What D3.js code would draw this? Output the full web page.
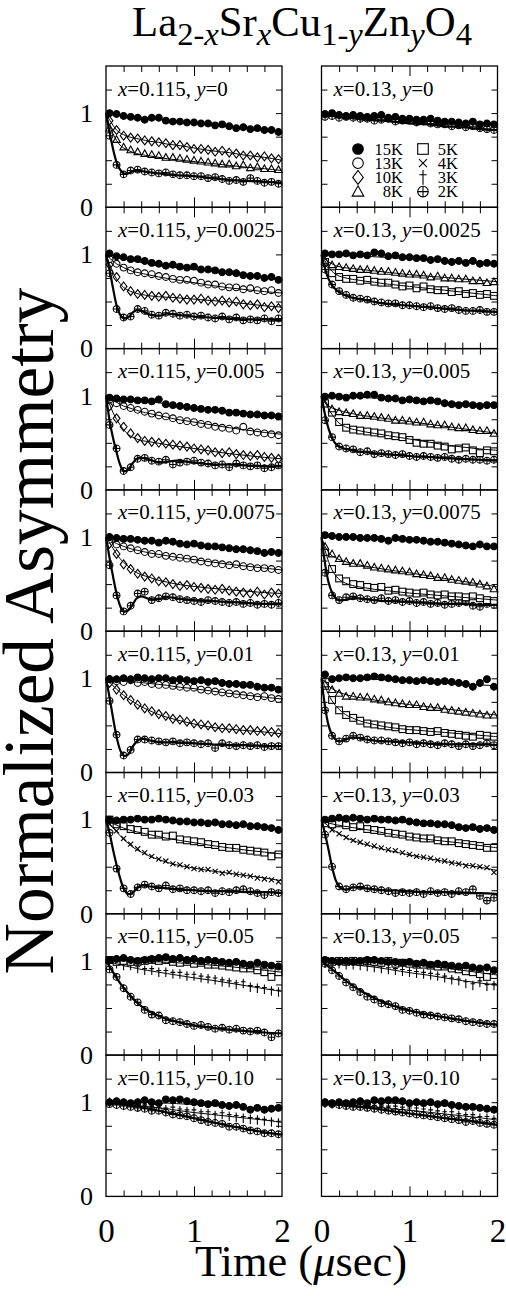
<!DOCTYPE html>
<html>
<head>
<meta charset="utf-8">
<script src="https://cdn.jsdelivr.net/npm/d3@7"></script>
<style>
  body { margin: 0; background: #fff; }
  svg { display: block; }
</style>
</head>
<body>
<div id="chart"></div>
<script>
// time grids (usec): measured points and fitted curves
const time = [0.04,0.12,0.20,0.28,0.36,0.44,0.52,0.60,0.68,0.76,0.84,0.92,1.00,1.08,1.16,1.24,1.32,1.40,1.48,1.56,1.64,1.72,1.80,1.88,1.96];
const fitTime = [0,0.04,0.08,0.12,0.16,0.2,0.25,0.3,0.35,0.4,0.5,0.6,0.7,0.8,1.0,1.2,1.4,1.6,1.8,2.0];

const xValues = ["0.115", "0.13"];
const yValues = ["0", "0.0025", "0.005", "0.0075", "0.01", "0.03", "0.05", "0.10"];
const temps = ["15K", "13K", "10K", "8K", "5K", "4K", "3K", "2K"];
const markerTypes = ["filled", "circle", "diamond", "triangle", "square", "times", "dagger", "oplus"];
const yTickLabels = [0, 1];
const xTickLabels = [0, 1, 2];

// x=0.115, y=0
const L1_15K = [1.00,0.99,0.97,0.96,0.95,0.93,0.95,0.95,0.92,0.91,0.91,0.90,0.90,0.89,0.89,0.87,0.88,0.86,0.84,0.85,0.83,0.84,0.82,0.82,0.80];
const L1_15K_fit = [1.0,0.995,0.99,0.985,0.98,0.975,0.97,0.965,0.96,0.955,0.945,0.935,0.925,0.915,0.895,0.875,0.855,0.835,0.815,0.80];
const L1_10K = [0.92,0.82,0.76,0.74,0.73,0.71,0.70,0.69,0.68,0.66,0.66,0.64,0.62,0.62,0.61,0.59,0.60,0.58,0.57,0.55,0.55,0.53,0.54,0.52,0.51];
const L1_10K_fit = [1.0,0.93,0.87,0.82,0.79,0.77,0.75,0.74,0.73,0.72,0.70,0.69,0.67,0.66,0.63,0.60,0.58,0.55,0.53,0.50];
const L1_8K = [0.84,0.72,0.64,0.61,0.59,0.57,0.56,0.55,0.53,0.53,0.52,0.51,0.50,0.49,0.48,0.47,0.46,0.46,0.44,0.45,0.42,0.43,0.41,0.41,0.40];
const L1_8K_fit = [1.0,0.87,0.78,0.71,0.66,0.63,0.605,0.585,0.57,0.56,0.545,0.53,0.515,0.505,0.485,0.465,0.445,0.425,0.41,0.39];
const L1_2K = [0.76,0.45,0.35,0.39,0.40,0.38,0.37,0.36,0.37,0.35,0.34,0.34,0.33,0.33,0.31,0.32,0.30,0.28,0.29,0.27,0.31,0.28,0.26,0.27,0.25];
const L1_2K_fit = [1.0,0.80,0.62,0.48,0.40,0.36,0.36,0.38,0.39,0.385,0.37,0.36,0.35,0.34,0.33,0.31,0.29,0.28,0.27,0.26];

// x=0.13, y=0
const R1_15K = [0.99,1.00,0.98,0.97,0.98,0.97,0.96,0.97,0.98,0.95,0.96,0.94,0.94,0.93,0.93,0.94,0.92,0.91,0.91,0.90,0.89,0.91,0.88,0.89,0.88];
const R1_15K_fit = [1.0,0.995,0.99,0.99,0.985,0.98,0.98,0.975,0.97,0.97,0.96,0.955,0.95,0.94,0.93,0.92,0.91,0.90,0.89,0.88];
const R1_2K = [0.96,0.97,0.95,0.96,0.95,0.94,0.94,0.92,0.93,0.94,0.91,0.92,0.92,0.90,0.91,0.89,0.88,0.88,0.86,0.87,0.85,0.86,0.84,0.83,0.82];
const R1_2K_fit = [0.98,0.975,0.97,0.97,0.965,0.96,0.955,0.95,0.945,0.94,0.93,0.925,0.92,0.91,0.89,0.88,0.86,0.85,0.83,0.82];

// x=0.115, y=0.0025
const L2_15K = [1.01,0.98,0.97,0.95,0.95,0.93,0.91,0.90,0.88,0.89,0.87,0.86,0.87,0.84,0.84,0.83,0.81,0.81,0.80,0.78,0.77,0.77,0.75,0.76,0.73];
const L2_15K_fit = [1.0,0.995,0.985,0.975,0.965,0.955,0.945,0.935,0.925,0.915,0.895,0.88,0.87,0.86,0.84,0.82,0.80,0.775,0.75,0.725];
const L2_13K = [0.95,0.90,0.86,0.83,0.81,0.80,0.79,0.77,0.76,0.74,0.73,0.73,0.72,0.70,0.68,0.68,0.66,0.65,0.65,0.63,0.64,0.62,0.61,0.62,0.59];
const L2_13K_fit = [1.0,0.96,0.93,0.90,0.88,0.86,0.84,0.82,0.81,0.80,0.78,0.76,0.745,0.73,0.70,0.67,0.645,0.625,0.605,0.59];
const L2_10K = [0.89,0.76,0.66,0.61,0.58,0.57,0.56,0.55,0.56,0.54,0.53,0.52,0.52,0.53,0.51,0.50,0.51,0.49,0.50,0.47,0.46,0.47,0.44,0.45,0.43];
const L2_10K_fit = [1.0,0.90,0.81,0.74,0.69,0.65,0.62,0.60,0.585,0.575,0.56,0.55,0.545,0.54,0.525,0.51,0.495,0.475,0.455,0.44];
const L2_2K = [0.80,0.42,0.33,0.34,0.42,0.40,0.36,0.35,0.38,0.37,0.35,0.36,0.34,0.35,0.33,0.32,0.34,0.31,0.33,0.30,0.31,0.30,0.32,0.29,0.32];
const L2_2K_fit = [1.0,0.84,0.64,0.46,0.36,0.32,0.33,0.38,0.41,0.40,0.36,0.35,0.37,0.36,0.34,0.33,0.32,0.31,0.31,0.30];

// x=0.13, y=0.0025
const R2_15K = [1.01,1.00,1.00,1.01,0.99,1.00,0.99,1.02,1.01,0.98,0.99,0.97,0.97,0.96,0.96,0.94,0.95,0.93,0.92,0.93,0.91,0.93,0.90,0.91,0.90];
const R2_15K_fit = [1.0,1.0,1.0,1.0,0.995,0.995,0.99,0.99,0.985,0.985,0.98,0.975,0.97,0.965,0.955,0.945,0.935,0.925,0.915,0.905];
const R2_8K = [0.93,0.89,0.87,0.86,0.85,0.84,0.84,0.83,0.82,0.82,0.81,0.80,0.79,0.79,0.78,0.76,0.77,0.75,0.75,0.74,0.74,0.72,0.72,0.70,0.71];
const R2_8K_fit = [1.0,0.95,0.92,0.90,0.88,0.87,0.86,0.855,0.85,0.845,0.835,0.825,0.815,0.805,0.785,0.77,0.755,0.74,0.725,0.71];
const R2_5K = [0.92,0.80,0.76,0.74,0.74,0.72,0.73,0.71,0.70,0.70,0.68,0.66,0.67,0.64,0.66,0.63,0.62,0.62,0.60,0.61,0.58,0.59,0.57,0.58,0.56];
const R2_5K_fit = [1.0,0.93,0.87,0.82,0.79,0.77,0.755,0.745,0.735,0.73,0.715,0.705,0.69,0.68,0.66,0.64,0.62,0.60,0.58,0.56];
const R2_2K = [0.84,0.68,0.61,0.57,0.54,0.53,0.52,0.50,0.49,0.48,0.48,0.46,0.46,0.45,0.44,0.45,0.43,0.42,0.43,0.41,0.40,0.40,0.41,0.39,0.39];
const R2_2K_fit = [1.0,0.85,0.74,0.67,0.63,0.60,0.575,0.555,0.54,0.53,0.515,0.495,0.48,0.47,0.455,0.44,0.425,0.41,0.40,0.39];

// x=0.115, y=0.005
const L3_15K = [0.98,0.97,0.96,0.96,0.95,0.95,0.94,0.96,0.91,0.90,0.89,0.88,0.87,0.86,0.85,0.85,0.84,0.82,0.82,0.81,0.80,0.80,0.79,0.79,0.78];
const L3_15K_fit = [1.0,0.99,0.985,0.98,0.975,0.97,0.965,0.96,0.955,0.95,0.94,0.925,0.91,0.895,0.87,0.85,0.83,0.815,0.80,0.785];
const L3_13K = [0.96,0.92,0.89,0.87,0.85,0.83,0.81,0.79,0.78,0.76,0.74,0.73,0.72,0.70,0.69,0.67,0.66,0.65,0.63,0.67,0.62,0.61,0.60,0.59,0.58];
const L3_13K_fit = [1.0,0.97,0.95,0.93,0.91,0.89,0.875,0.86,0.845,0.83,0.81,0.79,0.77,0.75,0.72,0.69,0.66,0.635,0.61,0.59];
const L3_10K = [0.89,0.76,0.67,0.60,0.55,0.52,0.51,0.50,0.49,0.48,0.47,0.46,0.44,0.43,0.42,0.40,0.39,0.40,0.38,0.37,0.36,0.37,0.35,0.34,0.33];
const L3_10K_fit = [1.0,0.91,0.82,0.75,0.69,0.64,0.59,0.56,0.54,0.525,0.51,0.495,0.48,0.465,0.44,0.41,0.385,0.365,0.345,0.33];
const L3_2K = [0.69,0.44,0.20,0.24,0.33,0.34,0.31,0.30,0.32,0.27,0.29,0.30,0.31,0.29,0.28,0.26,0.27,0.24,0.28,0.26,0.25,0.26,0.23,0.24,0.26];
const L3_2K_fit = [1.0,0.74,0.55,0.40,0.27,0.20,0.21,0.28,0.33,0.34,0.32,0.29,0.30,0.31,0.29,0.27,0.27,0.26,0.25,0.25];

// x=0.13, y=0.005
const R3_15K = [0.99,1.00,0.99,0.98,1.00,1.00,1.01,1.01,0.98,0.97,0.97,0.95,0.96,0.95,0.94,0.95,0.94,0.92,0.91,0.90,0.91,0.90,0.89,0.90,0.90];
const R3_15K_fit = [1.0,1.0,1.0,1.0,1.0,0.995,0.995,0.99,0.99,0.985,0.98,0.975,0.97,0.965,0.95,0.94,0.93,0.92,0.91,0.90];
const R3_8K = [0.91,0.86,0.83,0.82,0.81,0.79,0.79,0.78,0.77,0.76,0.74,0.74,0.73,0.72,0.72,0.70,0.69,0.69,0.67,0.66,0.66,0.64,0.63,0.63,0.60];
const R3_8K_fit = [1.0,0.93,0.89,0.87,0.855,0.845,0.83,0.82,0.81,0.80,0.785,0.775,0.76,0.75,0.725,0.70,0.675,0.65,0.625,0.60];
const R3_5K = [0.92,0.82,0.72,0.66,0.64,0.63,0.62,0.61,0.60,0.58,0.57,0.56,0.53,0.50,0.49,0.49,0.47,0.46,0.43,0.44,0.45,0.42,0.39,0.42,0.41];
const R3_5K_fit = [1.0,0.93,0.86,0.80,0.75,0.71,0.68,0.66,0.645,0.635,0.615,0.60,0.585,0.57,0.54,0.51,0.48,0.455,0.435,0.42];
const R3_2K = [0.74,0.56,0.46,0.44,0.43,0.40,0.41,0.38,0.39,0.38,0.37,0.38,0.36,0.35,0.36,0.35,0.34,0.35,0.33,0.32,0.33,0.32,0.32,0.31,0.32];
const R3_2K_fit = [1.0,0.80,0.65,0.55,0.49,0.46,0.44,0.43,0.42,0.41,0.40,0.39,0.38,0.375,0.36,0.35,0.34,0.33,0.32,0.31];

// x=0.115, y=0.0075
const L4_15K = [1.00,0.99,0.98,0.98,0.97,0.96,0.96,0.94,0.96,0.95,0.93,0.92,0.93,0.91,0.90,0.90,0.89,0.88,0.87,0.87,0.86,0.85,0.83,0.84,0.83];
const L4_15K_fit = [1.0,1.0,0.995,0.99,0.985,0.985,0.98,0.975,0.97,0.965,0.96,0.95,0.94,0.93,0.91,0.89,0.87,0.855,0.84,0.825];
const L4_13K = [0.97,0.92,0.90,0.88,0.86,0.84,0.82,0.82,0.80,0.79,0.78,0.77,0.76,0.74,0.73,0.72,0.71,0.70,0.71,0.69,0.68,0.67,0.67,0.66,0.65];
const L4_13K_fit = [1.0,0.97,0.95,0.93,0.915,0.90,0.885,0.87,0.86,0.85,0.83,0.815,0.80,0.785,0.76,0.735,0.71,0.69,0.67,0.65];
const L4_10K = [0.93,0.82,0.71,0.66,0.61,0.58,0.56,0.53,0.52,0.50,0.48,0.49,0.47,0.46,0.45,0.44,0.45,0.43,0.42,0.41,0.40,0.42,0.39,0.41,0.40];
const L4_10K_fit = [1.0,0.94,0.88,0.82,0.77,0.73,0.69,0.65,0.62,0.60,0.57,0.54,0.52,0.50,0.475,0.455,0.44,0.425,0.41,0.40];
const L4_2K = [0.70,0.38,0.21,0.27,0.40,0.42,0.33,0.35,0.37,0.36,0.34,0.33,0.32,0.31,0.33,0.32,0.31,0.30,0.31,0.29,0.30,0.28,0.29,0.28,0.30];
const L4_2K_fit = [1.0,0.78,0.58,0.40,0.27,0.21,0.22,0.28,0.35,0.37,0.34,0.34,0.36,0.35,0.33,0.32,0.31,0.30,0.29,0.29];

// x=0.13, y=0.0075
const R4_15K = [1.02,1.01,1.00,1.00,1.00,0.99,0.99,0.99,0.98,0.96,0.99,0.98,0.97,0.97,0.96,0.95,0.95,0.94,0.93,0.92,0.91,0.90,0.92,0.90,0.90];
const R4_15K_fit = [1.0,1.0,1.0,1.0,1.0,1.0,0.995,0.995,0.99,0.99,0.985,0.98,0.975,0.97,0.96,0.95,0.935,0.92,0.91,0.90];
const R4_8K = [0.90,0.82,0.77,0.74,0.72,0.72,0.70,0.68,0.67,0.66,0.65,0.64,0.63,0.61,0.60,0.59,0.57,0.57,0.55,0.54,0.53,0.52,0.50,0.48,0.45];
const R4_8K_fit = [1.0,0.90,0.84,0.80,0.78,0.76,0.745,0.73,0.72,0.71,0.69,0.675,0.66,0.645,0.62,0.59,0.56,0.53,0.50,0.47];
const R4_5K = [0.84,0.66,0.56,0.53,0.50,0.49,0.47,0.46,0.47,0.43,0.44,0.42,0.41,0.40,0.41,0.39,0.38,0.39,0.37,0.37,0.36,0.37,0.35,0.33,0.32];
const R4_5K_fit = [1.0,0.86,0.74,0.65,0.59,0.55,0.52,0.50,0.485,0.475,0.46,0.445,0.435,0.425,0.405,0.39,0.375,0.36,0.345,0.33];
const R4_2K = [0.62,0.38,0.33,0.36,0.37,0.35,0.34,0.33,0.35,0.32,0.33,0.31,0.32,0.30,0.31,0.29,0.30,0.28,0.29,0.30,0.31,0.27,0.26,0.29,0.28];
const R4_2K_fit = [1.0,0.72,0.52,0.41,0.35,0.33,0.33,0.34,0.35,0.35,0.34,0.33,0.32,0.32,0.31,0.30,0.29,0.29,0.28,0.28];

// x=0.115, y=0.01
const L5_15K = [0.99,0.99,1.00,0.99,1.01,1.00,0.99,1.00,1.00,0.98,0.99,0.98,0.97,0.98,0.96,0.97,0.95,0.94,0.94,0.93,0.93,0.91,0.90,0.90,0.88];
const L5_15K_fit = [1.0,1.0,1.0,1.0,1.0,1.0,0.995,0.995,0.995,0.99,0.99,0.985,0.98,0.975,0.965,0.955,0.94,0.925,0.905,0.885];
const L5_13K = [0.99,0.97,0.96,0.98,0.95,0.96,0.94,0.93,0.93,0.92,0.91,0.90,0.90,0.88,0.87,0.86,0.85,0.84,0.83,0.82,0.81,0.80,0.81,0.79,0.78];
const L5_13K_fit = [1.0,0.995,0.99,0.985,0.98,0.975,0.97,0.965,0.96,0.955,0.945,0.935,0.925,0.91,0.89,0.865,0.84,0.82,0.80,0.78];
const L5_10K = [0.95,0.88,0.82,0.77,0.72,0.68,0.65,0.62,0.60,0.57,0.56,0.54,0.52,0.51,0.50,0.48,0.47,0.47,0.46,0.45,0.45,0.44,0.44,0.43,0.42];
const L5_10K_fit = [1.0,0.96,0.92,0.885,0.85,0.82,0.785,0.755,0.725,0.70,0.655,0.615,0.585,0.56,0.515,0.48,0.46,0.445,0.43,0.41];
const L5_2K = [0.76,0.40,0.18,0.24,0.35,0.35,0.34,0.33,0.32,0.33,0.31,0.32,0.31,0.30,0.31,0.26,0.31,0.29,0.28,0.29,0.28,0.29,0.27,0.28,0.28];
const L5_2K_fit = [1.0,0.80,0.58,0.38,0.24,0.18,0.19,0.27,0.33,0.36,0.34,0.32,0.32,0.32,0.31,0.30,0.29,0.29,0.28,0.28];

// x=0.13, y=0.01
const R5_15K = [1.04,0.99,1.00,1.01,1.00,1.00,1.01,1.02,1.01,1.00,0.99,0.98,0.98,0.97,0.98,0.97,0.96,0.97,0.96,0.95,0.94,0.91,0.95,0.99,0.91];
const R5_15K_fit = [1.0,1.0,1.0,1.0,1.0,1.0,1.0,0.995,0.995,0.995,0.99,0.99,0.985,0.98,0.97,0.96,0.95,0.94,0.93,0.92];
const R5_8K = [0.94,0.88,0.84,0.81,0.81,0.80,0.80,0.78,0.77,0.75,0.74,0.73,0.72,0.72,0.70,0.69,0.69,0.67,0.66,0.65,0.64,0.63,0.62,0.61,0.61];
const R5_8K_fit = [1.0,0.96,0.92,0.89,0.87,0.85,0.835,0.82,0.81,0.80,0.785,0.77,0.755,0.745,0.72,0.70,0.675,0.655,0.63,0.61];
const R5_5K = [0.92,0.77,0.66,0.61,0.58,0.55,0.52,0.51,0.50,0.49,0.48,0.46,0.45,0.45,0.44,0.43,0.44,0.42,0.41,0.40,0.39,0.38,0.40,0.39,0.38];
const R5_5K_fit = [1.0,0.91,0.83,0.76,0.71,0.67,0.63,0.60,0.58,0.56,0.53,0.51,0.49,0.475,0.455,0.44,0.425,0.41,0.395,0.38];
const R5_2K = [0.66,0.39,0.33,0.36,0.39,0.37,0.35,0.34,0.34,0.33,0.32,0.31,0.32,0.30,0.31,0.30,0.29,0.31,0.30,0.28,0.30,0.28,0.29,0.31,0.29];
const R5_2K_fit = [1.0,0.70,0.50,0.40,0.35,0.33,0.34,0.36,0.37,0.37,0.35,0.34,0.33,0.33,0.32,0.31,0.30,0.30,0.30,0.29];

// x=0.115, y=0.03
const L6_15K = [1.00,0.99,1.00,1.00,1.01,1.00,1.00,1.01,1.00,0.99,0.98,0.98,0.97,0.97,0.96,0.97,0.95,0.95,0.94,0.95,0.93,0.93,0.92,0.91,0.89];
const L6_15K_fit = [1.0,1.0,1.0,1.0,1.0,1.0,1.0,1.0,1.0,1.0,0.995,0.99,0.99,0.985,0.975,0.965,0.95,0.935,0.915,0.895];
const L6_5K = [1.00,0.95,0.93,0.90,0.89,0.87,0.84,0.84,0.82,0.83,0.79,0.78,0.77,0.76,0.74,0.73,0.71,0.70,0.70,0.68,0.67,0.66,0.65,0.61,0.63];
const L6_5K_fit = [1.0,0.98,0.96,0.94,0.925,0.91,0.895,0.88,0.87,0.86,0.84,0.82,0.80,0.785,0.755,0.725,0.70,0.675,0.655,0.635];
const L6_4K = [0.95,0.88,0.80,0.74,0.69,0.65,0.61,0.58,0.56,0.53,0.52,0.50,0.48,0.47,0.47,0.45,0.43,0.44,0.42,0.41,0.40,0.38,0.37,0.36,0.34];
const L6_4K_fit = [1.0,0.96,0.91,0.87,0.83,0.79,0.75,0.71,0.68,0.655,0.61,0.575,0.545,0.52,0.485,0.455,0.43,0.405,0.38,0.35];
const L6_2K = [0.86,0.48,0.27,0.21,0.28,0.31,0.29,0.27,0.30,0.26,0.27,0.25,0.25,0.24,0.25,0.22,0.24,0.23,0.25,0.26,0.24,0.22,0.20,0.23,0.22];
const L6_2K_fit = [1.0,0.86,0.68,0.52,0.38,0.27,0.21,0.22,0.27,0.30,0.29,0.28,0.27,0.26,0.25,0.24,0.24,0.23,0.23,0.22];

// x=0.13, y=0.03
const R6_15K = [1.00,1.01,1.02,1.01,1.02,1.01,1.00,1.01,1.00,1.00,0.99,1.00,0.98,0.97,0.96,0.96,0.95,0.95,0.94,0.92,0.91,0.92,0.90,0.91,0.89];
const R6_15K_fit = [1.0,1.0,1.0,1.0,1.0,1.0,1.0,1.0,1.0,1.0,0.995,0.99,0.985,0.98,0.97,0.96,0.945,0.93,0.91,0.89];
const R6_5K = [0.96,0.95,0.96,0.94,0.92,0.93,0.90,0.89,0.88,0.86,0.85,0.84,0.82,0.81,0.80,0.80,0.78,0.77,0.77,0.75,0.74,0.73,0.72,0.70,0.70];
const R6_5K_fit = [1.0,0.98,0.965,0.955,0.945,0.94,0.93,0.925,0.915,0.91,0.895,0.88,0.86,0.845,0.815,0.79,0.77,0.75,0.725,0.70];
const R6_4K = [0.95,0.89,0.85,0.81,0.78,0.76,0.74,0.72,0.70,0.68,0.67,0.65,0.63,0.61,0.60,0.59,0.57,0.56,0.54,0.53,0.51,0.51,0.50,0.49,0.44];
const R6_4K_fit = [1.0,0.96,0.93,0.90,0.875,0.85,0.825,0.80,0.78,0.765,0.735,0.71,0.685,0.665,0.625,0.59,0.555,0.525,0.495,0.46];
const R6_2K = [0.84,0.50,0.29,0.26,0.28,0.29,0.27,0.26,0.25,0.24,0.22,0.23,0.22,0.23,0.21,0.24,0.22,0.23,0.21,0.24,0.23,0.26,0.19,0.14,0.17];
const R6_2K_fit = [1.0,0.85,0.68,0.50,0.36,0.29,0.26,0.26,0.28,0.28,0.27,0.26,0.25,0.25,0.24,0.23,0.23,0.22,0.22,0.21];

// x=0.115, y=0.05
const L7_15K = [1.01,1.02,1.03,1.01,1.00,1.01,1.02,1.03,1.04,1.02,1.03,1.01,1.02,1.00,1.01,1.00,0.99,0.98,0.99,0.97,0.96,0.98,0.96,0.95,0.94];
const L7_15K_fit = [1.01,1.01,1.01,1.01,1.01,1.01,1.01,1.01,1.01,1.01,1.01,1.01,1.01,1.01,1.005,0.995,0.985,0.97,0.955,0.94];
const L7_5K = [1.01,0.99,1.00,0.99,0.99,1.00,1.01,1.00,1.01,0.99,0.98,0.99,0.97,0.98,0.96,0.96,0.95,0.94,0.93,0.92,0.92,0.90,0.88,0.83,0.88];
const L7_5K_fit = [1.0,1.0,1.0,1.0,1.0,1.0,1.0,1.0,0.995,0.995,0.99,0.99,0.985,0.98,0.97,0.955,0.94,0.92,0.90,0.88];
const L7_3K = [0.99,0.97,0.95,0.95,0.92,0.90,0.90,0.88,0.88,0.86,0.86,0.84,0.84,0.82,0.81,0.80,0.78,0.77,0.75,0.76,0.72,0.71,0.70,0.68,0.67];
const L7_3K_fit = [1.0,0.99,0.98,0.97,0.96,0.95,0.94,0.93,0.92,0.91,0.895,0.88,0.865,0.85,0.82,0.795,0.765,0.735,0.705,0.675];
const L7_2K = [0.91,0.83,0.71,0.62,0.56,0.48,0.43,0.42,0.37,0.36,0.35,0.33,0.31,0.32,0.30,0.28,0.29,0.27,0.28,0.26,0.25,0.26,0.24,0.19,0.23];
const L7_2K_fit = [1.0,0.94,0.88,0.82,0.765,0.715,0.66,0.605,0.56,0.52,0.46,0.415,0.38,0.355,0.315,0.29,0.27,0.255,0.24,0.23];

// x=0.13, y=0.05
const R7_15K = [1.01,1.00,0.99,1.00,0.99,1.00,1.01,1.01,1.00,0.99,0.99,0.98,0.99,0.97,0.98,0.96,0.97,0.96,0.95,0.94,0.95,0.93,0.92,0.93,0.90];
const R7_15K_fit = [1.0,1.0,1.0,1.0,1.0,1.0,1.0,1.0,1.0,1.0,0.995,0.99,0.985,0.98,0.97,0.96,0.95,0.935,0.92,0.905];
const R7_5K = [1.00,0.99,1.00,0.99,1.00,0.99,1.00,0.99,0.98,1.00,0.97,0.98,0.97,0.96,0.96,0.95,0.94,0.94,0.92,0.91,0.89,0.88,0.86,0.83,0.85];
const R7_5K_fit = [1.0,1.0,1.0,1.0,1.0,1.0,1.0,0.995,0.995,0.99,0.99,0.985,0.98,0.975,0.96,0.945,0.925,0.90,0.875,0.85];
const R7_3K = [0.98,0.97,0.97,0.96,0.96,0.95,0.94,0.93,0.92,0.91,0.90,0.89,0.88,0.87,0.86,0.85,0.84,0.82,0.80,0.79,0.76,0.74,0.77,0.73,0.74];
const R7_3K_fit = [1.0,0.995,0.99,0.985,0.98,0.975,0.97,0.965,0.96,0.955,0.945,0.935,0.92,0.905,0.875,0.85,0.82,0.79,0.765,0.745];
const R7_2K = [0.97,0.90,0.84,0.77,0.72,0.67,0.62,0.59,0.55,0.54,0.52,0.48,0.47,0.45,0.43,0.42,0.41,0.40,0.39,0.38,0.36,0.35,0.34,0.33,0.33];
const R7_2K_fit = [1.0,0.97,0.94,0.91,0.88,0.85,0.81,0.775,0.74,0.71,0.655,0.605,0.565,0.53,0.475,0.435,0.40,0.37,0.345,0.32];

// x=0.115, y=0.10
const L8_15K = [1.00,1.01,1.00,0.99,1.00,1.02,1.00,0.99,1.03,1.02,1.03,1.01,1.00,0.99,0.98,0.99,0.97,0.96,0.97,0.95,0.92,0.94,0.92,0.93,0.94];
const L8_15K_fit = [1.0,1.0,1.0,1.0,1.0,1.0,1.0,1.0,1.0,1.0,0.995,0.99,0.99,0.985,0.975,0.965,0.955,0.945,0.935,0.925];
const L8_3K = [1.00,0.98,0.98,0.97,0.95,0.96,0.94,0.95,0.92,0.93,0.91,0.90,0.90,0.88,0.88,0.86,0.87,0.85,0.84,0.83,0.82,0.81,0.80,0.79,0.78];
const L8_3K_fit = [1.0,1.0,0.995,0.99,0.985,0.98,0.975,0.97,0.965,0.96,0.95,0.94,0.93,0.915,0.89,0.87,0.85,0.83,0.81,0.785];
const L8_2K = [0.98,0.97,0.96,0.95,0.94,0.93,0.91,0.91,0.89,0.87,0.86,0.85,0.83,0.81,0.79,0.78,0.77,0.74,0.74,0.72,0.70,0.69,0.67,0.67,0.66];
const L8_2K_fit = [1.0,0.995,0.99,0.985,0.98,0.975,0.97,0.965,0.955,0.945,0.93,0.91,0.89,0.87,0.83,0.79,0.75,0.715,0.68,0.655];

// x=0.13, y=0.10
const R8_15K = [1.00,0.99,1.00,0.99,1.00,1.01,0.99,1.02,1.01,1.02,1.02,1.01,0.99,1.00,0.99,1.00,0.98,0.99,0.97,0.96,0.95,0.95,0.94,0.93,0.92];
const R8_15K_fit = [1.0,1.0,1.0,1.0,1.0,1.0,1.0,1.0,1.0,1.0,1.0,1.0,0.995,0.99,0.985,0.975,0.965,0.95,0.935,0.92];
const R8_3K = [0.99,0.98,0.98,0.97,0.97,0.96,0.96,0.95,0.95,0.94,0.94,0.93,0.92,0.92,0.91,0.90,0.89,0.88,0.88,0.86,0.85,0.85,0.83,0.83,0.81];
const R8_3K_fit = [1.0,1.0,0.995,0.99,0.985,0.98,0.975,0.97,0.965,0.96,0.955,0.95,0.94,0.93,0.915,0.895,0.875,0.855,0.835,0.81];
const R8_2K = [0.99,0.98,0.97,0.96,0.95,0.95,0.94,0.93,0.92,0.91,0.90,0.89,0.88,0.87,0.86,0.85,0.84,0.83,0.82,0.81,0.79,0.80,0.78,0.77,0.76];
const R8_2K_fit = [1.0,0.995,0.99,0.985,0.98,0.975,0.97,0.965,0.96,0.955,0.945,0.935,0.92,0.905,0.88,0.855,0.83,0.81,0.785,0.76];

// panel table: [column, row, [temperature, points, fit], ...]
const panels = [
  [0, 0, [["2K", L1_2K, L1_2K_fit], ["8K", L1_8K, L1_8K_fit], ["10K", L1_10K, L1_10K_fit], ["15K", L1_15K, L1_15K_fit]]],
  [1, 0, [["2K", R1_2K, R1_2K_fit], ["15K", R1_15K, R1_15K_fit]]],
  [0, 1, [["2K", L2_2K, L2_2K_fit], ["10K", L2_10K, L2_10K_fit], ["13K", L2_13K, L2_13K_fit], ["15K", L2_15K, L2_15K_fit]]],
  [1, 1, [["2K", R2_2K, R2_2K_fit], ["5K", R2_5K, R2_5K_fit], ["8K", R2_8K, R2_8K_fit], ["15K", R2_15K, R2_15K_fit]]],
  [0, 2, [["2K", L3_2K, L3_2K_fit], ["10K", L3_10K, L3_10K_fit], ["13K", L3_13K, L3_13K_fit], ["15K", L3_15K, L3_15K_fit]]],
  [1, 2, [["2K", R3_2K, R3_2K_fit], ["5K", R3_5K, R3_5K_fit], ["8K", R3_8K, R3_8K_fit], ["15K", R3_15K, R3_15K_fit]]],
  [0, 3, [["2K", L4_2K, L4_2K_fit], ["10K", L4_10K, L4_10K_fit], ["13K", L4_13K, L4_13K_fit], ["15K", L4_15K, L4_15K_fit]]],
  [1, 3, [["2K", R4_2K, R4_2K_fit], ["5K", R4_5K, R4_5K_fit], ["8K", R4_8K, R4_8K_fit], ["15K", R4_15K, R4_15K_fit]]],
  [0, 4, [["2K", L5_2K, L5_2K_fit], ["10K", L5_10K, L5_10K_fit], ["13K", L5_13K, L5_13K_fit], ["15K", L5_15K, L5_15K_fit]]],
  [1, 4, [["2K", R5_2K, R5_2K_fit], ["5K", R5_5K, R5_5K_fit], ["8K", R5_8K, R5_8K_fit], ["15K", R5_15K, R5_15K_fit]]],
  [0, 5, [["2K", L6_2K, L6_2K_fit], ["4K", L6_4K, L6_4K_fit], ["5K", L6_5K, L6_5K_fit], ["15K", L6_15K, L6_15K_fit]]],
  [1, 5, [["2K", R6_2K, R6_2K_fit], ["4K", R6_4K, R6_4K_fit], ["5K", R6_5K, R6_5K_fit], ["15K", R6_15K, R6_15K_fit]]],
  [0, 6, [["2K", L7_2K, L7_2K_fit], ["3K", L7_3K, L7_3K_fit], ["5K", L7_5K, L7_5K_fit], ["15K", L7_15K, L7_15K_fit]]],
  [1, 6, [["2K", R7_2K, R7_2K_fit], ["3K", R7_3K, R7_3K_fit], ["5K", R7_5K, R7_5K_fit], ["15K", R7_15K, R7_15K_fit]]],
  [0, 7, [["2K", L8_2K, L8_2K_fit], ["3K", L8_3K, L8_3K_fit], ["15K", L8_15K, L8_15K_fit]]],
  [1, 7, [["2K", R8_2K, R8_2K_fit], ["3K", R8_3K, R8_3K_fit], ["15K", R8_15K, R8_15K_fit]]]
];

const width = 506, height = 1296;
const colLeft = [106, 321.5];
const panelW = 176, panelH = 141.3, top0 = 66;
const serif = '"Liberation Serif", serif';

const svg = d3.select("#chart").append("svg")
    .attr("width", width)
    .attr("height", height);

// every label goes through here so it gets the serif face
function txt(g) {
    return g.append("text").style("font-family", serif).attr("fill", "#000");
}

// draw one marker shape centred at (cx, cy)
function marker(g, type, cx, cy, r) {
    const s = g.append("g").attr("transform", `translate(${cx},${cy})`)
        .attr("stroke", "#000").attr("stroke-width", 1.1);
    if (type === "filled") {
        s.append("circle").attr("r", r).attr("fill", "#000");
    } else if (type === "circle") {
        s.append("circle").attr("r", r).attr("fill", "#fff");
    } else if (type === "diamond") {
        s.append("path").attr("fill", "#fff")
            .attr("d", `M0,${-r * 1.3}L${r},0L0,${r * 1.3}L${-r},0Z`);
    } else if (type === "triangle") {
        s.append("path").attr("fill", "#fff")
            .attr("d", `M0,${-r * 1.1}L${r * 1.1},${r * 0.85}L${-r * 1.1},${r * 0.85}Z`);
    } else if (type === "square") {
        s.append("rect").attr("fill", "#fff")
            .attr("x", -r).attr("y", -r).attr("width", 2 * r).attr("height", 2 * r);
    } else if (type === "times") {
        const a = r * 0.75;
        s.append("path").attr("fill", "none")
            .attr("d", `M${-a},${-a}L${a},${a}M${a},${-a}L${-a},${a}`);
    } else if (type === "dagger") {
        s.append("path").attr("fill", "none")
            .attr("d", `M0,${-r * 1.4}V${r * 1.4}M${-r * 0.7},${-r * 0.5}H${r * 0.7}`);
    } else if (type === "oplus") {
        s.append("circle").attr("r", r).attr("fill", "#fff");
        s.append("path").attr("fill", "none")
            .attr("d", `M${-r},0H${r}M0,${-r}V${r}`);
    }
}

function typeOf(temp) {
    return markerTypes[temps.indexOf(temp)];
}

panels.forEach(([col, row, series]) => {
    const x0 = colLeft[col];
    const yTop = top0 + row * panelH;
    const x = d3.scaleLinear().domain([0, 2]).range([x0, x0 + panelW]);
    const y = d3.scaleLinear().domain([0, 1.5]).range([yTop + panelH, yTop]);
    const g = svg.append("g");

    // inward ticks on all four sides
    const minorX = [0.2, 0.4, 0.6, 0.8, 1.2, 1.4, 1.6, 1.8];
    const yTicks = [0.25, 0.5, 0.75, 1.0, 1.25];
    const axes = [
        [d3.axisBottom(x).tickValues(minorX).tickSize(-6), `translate(0,${yTop + panelH})`],
        [d3.axisBottom(x).tickValues([1]).tickSize(-10), `translate(0,${yTop + panelH})`],
        [d3.axisTop(x).tickValues(minorX).tickSize(-6), `translate(0,${yTop})`],
        [d3.axisTop(x).tickValues([1]).tickSize(-10), `translate(0,${yTop})`],
        [d3.axisLeft(y).tickValues(yTicks).tickSize(-6), `translate(${x0},0)`],
        [d3.axisRight(y).tickValues(yTicks).tickSize(-6), `translate(${x0 + panelW},0)`]
    ];
    axes.forEach(([ax, tr]) => {
        const a = g.append("g").attr("transform", tr).call(ax.tickFormat(""));
        a.select(".domain").remove();
        a.selectAll("text").remove();
        a.selectAll("line").attr("stroke", "#000").attr("stroke-width", 1);
    });

    // measured points
    const mg = g.append("g");
    series.forEach(([temp, pts]) => {
        const type = typeOf(temp);
        pts.forEach((v, i) => marker(mg, type, x(time[i]), y(v), 3.4));
    });

    // fitted curves
    const line = d3.line()
        .x((d, i) => x(fitTime[i]))
        .y(d => y(d))
        .curve(d3.curveCatmullRom.alpha(0.5));
    series.forEach(([temp, pts, fit]) => {
        g.append("path")
            .attr("d", line(fit))
            .attr("fill", "none")
            .attr("stroke", "#000")
            .attr("stroke-width", temp === "2K" ? 2.2 : 1);
    });

    // frame
    g.append("rect")
        .attr("x", x0).attr("y", yTop)
        .attr("width", panelW).attr("height", panelH)
        .attr("fill", "none").attr("stroke", "#000").attr("stroke-width", 1.3);

    // panel label
    const lab = txt(g)
        .attr("x", x0 + 12).attr("y", yTop + 29.5)
        .style("font-size", "21px");
    lab.append("tspan").style("font-style", "italic").text("x");
    lab.append("tspan").text(`=${xValues[col]}, `);
    lab.append("tspan").style("font-style", "italic").text("y");
    lab.append("tspan").text(`=${yValues[row]}`);

    // y tick labels on the left column
    if (col === 0) {
        const ay = g.append("g").attr("transform", `translate(${x0},0)`)
            .call(d3.axisLeft(y).tickValues(yTickLabels).tickSize(0).tickPadding(13).tickFormat(d3.format("d")));
        ay.select(".domain").remove();
        ay.selectAll("text").style("font-family", serif).style("font-size", "26px");
    }
    // x tick labels on the bottom row
    if (row === 7) {
        const ax = g.append("g").attr("transform", `translate(0,${yTop + panelH})`)
            .call(d3.axisBottom(x).tickValues(xTickLabels).tickSize(0).tickPadding(22).tickFormat(d3.format("d")));
        ax.select(".domain").remove();
        ax.selectAll("text").style("font-family", serif).style("font-size", "33px");
    }
});

// legend inside the top right panel
const legendCols = [[0, 1, 2, 3], [4, 5, 6, 7]];
const legendMarkX = [358, 423];
const legendTextX = [403, 458];
const legendRowY = [149, 163.2, 177.4, 191.6];
const lg = svg.append("g");
legendCols.forEach((idx, c) => {
    idx.forEach((k, r) => {
        marker(lg, markerTypes[k], legendMarkX[c], legendRowY[r], 5.3);
        txt(lg)
            .attr("x", legendTextX[c]).attr("y", legendRowY[r] + 5.5)
            .attr("text-anchor", "end")
            .style("font-size", "16.5px")
            .text(temps[k]);
    });
});

// title: sizes are set once, measured, then rescaled to the reference width
const titleParts = [["La", 0, false], ["2-", 1, false], ["x", 1, true], ["Sr", 0, false], ["x", 1, true],
    ["Cu", 0, false], ["1-", 1, false], ["y", 1, true], ["Zn", 0, false], ["y", 1, true], ["O", 0, false], ["4", 1, false]];
const title = txt(svg).attr("text-anchor", "middle").attr("x", 302).attr("y", 36);
function setTitle(k) {
    title.selectAll("tspan").remove();
    let level = 0;
    titleParts.forEach(([s, lv, it]) => {
        title.append("tspan")
            .attr("dy", (lv - level) * 8 * k)
            .style("font-size", `${(lv ? 29 : 38) * k}px`)
            .style("font-style", it ? "italic" : "normal")
            .text(s);
        level = lv;
    });
}
setTitle(1);
setTitle(340 / title.node().getComputedTextLength());

// x axis title
const xt = txt(svg).attr("text-anchor", "middle").attr("x", 301).attr("y", 1276).style("font-size", "34px");
xt.append("tspan").text("Time (");
xt.append("tspan").style("font-style", "italic").text("\u03bc");
xt.append("tspan").text("sec)");
xt.style("font-size", `${34 * 212 / xt.node().getComputedTextLength()}px`);

// y axis title
const yt = txt(svg).attr("text-anchor", "middle")
    .attr("transform", "translate(53,631) rotate(-90)")
    .style("font-size", "62px").text("Normalized Asymmetry");
yt.style("font-size", `${62 * 687 / yt.node().getComputedTextLength()}px`);
</script>
</body>
</html>
